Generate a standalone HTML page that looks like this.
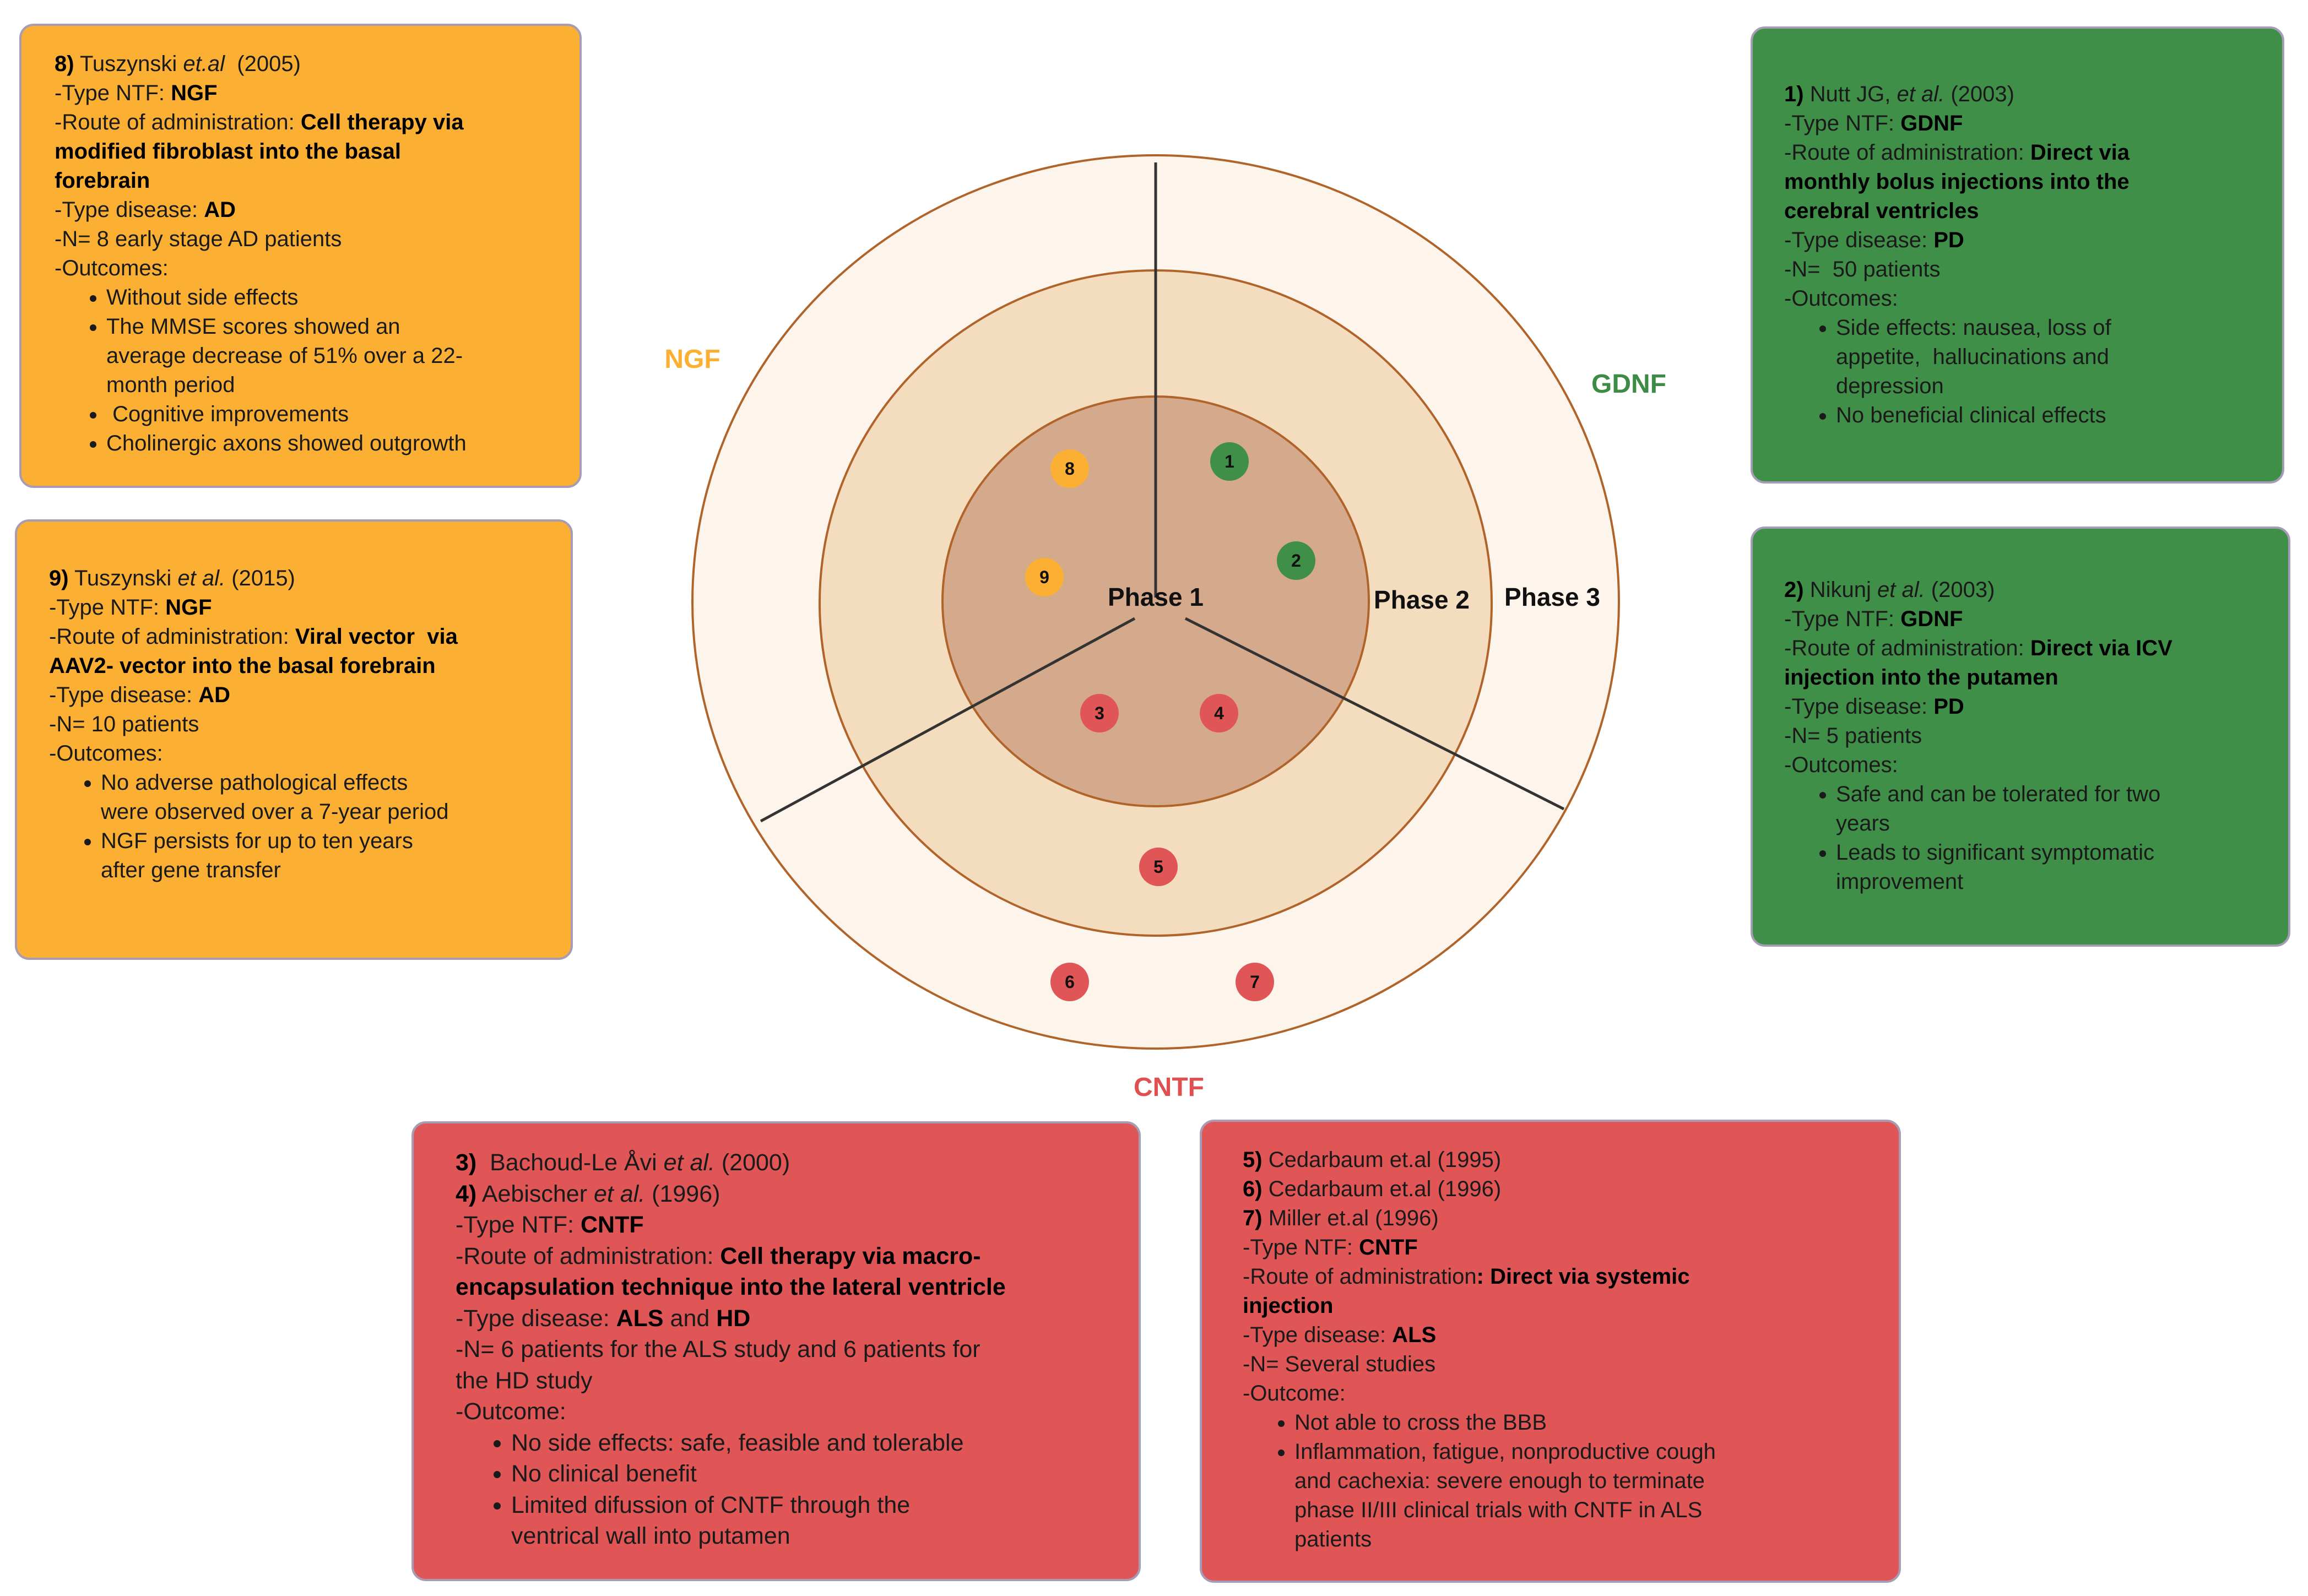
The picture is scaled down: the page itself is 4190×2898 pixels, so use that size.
<!DOCTYPE html>
<html><head><meta charset="utf-8">
<style>
html,body{margin:0;padding:0;background:#fff;}
body{width:4190px;height:2898px;position:relative;overflow:hidden;font-family:"Liberation Sans",sans-serif;color:#1a1a1a;}
.box{position:absolute;box-sizing:border-box;border:4px solid #a79cb5;border-radius:26px;}
.txt{position:absolute;font-size:40px;line-height:53px;white-space:nowrap;}
.txt b{font-weight:bold;color:#000;}
.txt ul{margin:0;padding:0 0 0 94px;list-style:disc;}
.o{background:#fbb034;} .g{background:#3f8f48;} .r{background:#e05555;}
</style></head><body>
<div class="box o" style="left:35px;top:43px;width:1021px;height:843px;"></div>
<div class="txt" style="left:99px;top:90px;">
<b>8)</b> Tuszynski <i>et.al</i> &nbsp;(2005)<br>-Type NTF: <b>NGF</b><br>-Route of administration: <b>Cell therapy via</b><br><b>modified fibroblast into the basal</b><br><b>forebrain</b><br>-Type disease: <b>AD</b><br>-N= 8 early stage AD patients<br>-Outcomes:
<ul><li>Without side effects</li><li>The MMSE scores showed an<br>average decrease of 51% over a 22-<br>month period</li><li>&nbsp;Cognitive improvements</li><li>Cholinergic axons showed outgrowth</li></ul></div>

<div class="box o" style="left:27px;top:943px;width:1013px;height:800px;"></div>
<div class="txt" style="left:89px;top:1024px;">
<b>9)</b> Tuszynski <i>et al.</i> (2015)<br>-Type NTF: <b>NGF</b><br>-Route of administration: <b>Viral vector &nbsp;via</b><br><b>AAV2- vector into the basal forebrain</b><br>-Type disease: <b>AD</b><br>-N= 10 patients<br>-Outcomes:
<ul style="padding-left:94px"><li>No adverse pathological effects<br>were observed over a 7-year period</li><li>NGF persists for up to ten years<br>after gene transfer</li></ul></div>

<div class="box g" style="left:3178px;top:48px;width:969px;height:830px;"></div>
<div class="txt" style="left:3239px;top:145px;">
<b>1)</b> Nutt JG, <i>et al.</i> (2003)<br>-Type NTF: <b>GDNF</b><br>-Route of administration: <b>Direct via</b><br><b>monthly bolus injections into the</b><br><b>cerebral ventricles</b><br>-Type disease: <b>PD</b><br>-N= &nbsp;50 patients<br>-Outcomes:
<ul><li>Side effects: nausea, loss of<br>appetite, &nbsp;hallucinations and<br>depression</li><li>No beneficial clinical effects</li></ul></div>

<div class="box g" style="left:3178px;top:956px;width:980px;height:763px;"></div>
<div class="txt" style="left:3239px;top:1045px;">
<b>2)</b> Nikunj <i>et al.</i> (2003)<br>-Type NTF: <b>GDNF</b><br>-Route of administration: <b>Direct via ICV</b><br><b>injection into the putamen</b><br>-Type disease: <b>PD</b><br>-N= 5 patients<br>-Outcomes:
<ul><li>Safe and can be tolerated for two<br>years</li><li>Leads to significant symptomatic<br>improvement</li></ul></div>

<div class="box r" style="left:747px;top:2036px;width:1324px;height:835px;"></div>
<div class="txt" style="left:827px;top:2083px;font-size:43px;line-height:56.5px;">
<b>3)</b> &nbsp;Bachoud-Le Åvi <i>et al.</i> (2000)<br><b>4)</b> Aebischer <i>et al.</i> (1996)<br>-Type NTF: <b>CNTF</b><br>-Route of administration: <b>Cell therapy via macro-</b><br><b>encapsulation technique into the lateral ventricle</b><br>-Type disease: <b>ALS</b> and <b>HD</b><br>-N= 6 patients for the ALS study and 6 patients for<br>the HD study<br>-Outcome:
<ul style="padding-left:101px"><li>No side effects: safe, feasible and tolerable</li><li>No clinical benefit</li><li>Limited difussion of CNTF through the<br>ventrical wall into putamen</li></ul></div>

<div class="box r" style="left:2178px;top:2033px;width:1273px;height:841px;"></div>
<div class="txt" style="left:2256px;top:2080px;">
<b>5)</b> Cedarbaum et.al (1995)<br><b>6)</b> Cedarbaum et.al (1996)<br><b>7)</b> Miller et.al (1996)<br>-Type NTF: <b>CNTF</b><br>-Route of administration<b>: Direct via systemic</b><br><b>injection</b><br>-Type disease: <b>ALS</b><br>-N= Several studies<br>-Outcome:
<ul><li>Not able to cross the BBB</li><li>Inflammation, fatigue, nonproductive cough<br>and cachexia: severe enough to terminate<br>phase II/III clinical trials with CNTF in ALS<br>patients</li></ul></div>

<svg width="4190" height="2898" style="position:absolute;left:0;top:0;" xmlns="http://www.w3.org/2000/svg">
<ellipse cx="2098" cy="1093" rx="841" ry="811" fill="#fdf5ec" stroke="#b0642a" stroke-width="4"/>
<ellipse cx="2098" cy="1095" rx="610" ry="604" fill="#f4dcbe" stroke="#b0642a" stroke-width="4"/>
<ellipse cx="2098" cy="1092" rx="387" ry="372" fill="#d4a98c" stroke="#b0642a" stroke-width="4"/>
<line x1="2098" y1="295" x2="2098" y2="1085" stroke="#333" stroke-width="5"/>
<line x1="2060" y1="1123" x2="1381" y2="1491" stroke="#333" stroke-width="5"/>
<line x1="2152" y1="1123" x2="2839" y2="1469" stroke="#333" stroke-width="5"/>
<g font-family="Liberation Sans, sans-serif" font-weight="bold" text-anchor="middle">
<text x="2098" y="1100" font-size="46" fill="#111">Phase 1</text>
<text x="2581" y="1105" font-size="46" fill="#111">Phase 2</text>
<text x="2818" y="1100" font-size="46" fill="#111">Phase 3</text>
<text x="1257" y="668" font-size="48" fill="#fbb034">NGF</text>
<text x="2957" y="713" font-size="48" fill="#3d8b45">GDNF</text>
<text x="2122" y="1990" font-size="48" fill="#e05050">CNTF</text>
</g>
<g font-family="Liberation Sans, sans-serif" font-weight="bold" text-anchor="middle" font-size="32" fill="#111">
<circle cx="1942" cy="851" r="35" fill="#fbb034"/><text x="1942" y="862">8</text>
<circle cx="2232" cy="838" r="35" fill="#3f8f48"/><text x="2232" y="849">1</text>
<circle cx="1896" cy="1048" r="35" fill="#fbb034"/><text x="1896" y="1059">9</text>
<circle cx="2353" cy="1018" r="35" fill="#3f8f48"/><text x="2353" y="1029">2</text>
<circle cx="1996" cy="1295" r="35" fill="#e05555"/><text x="1996" y="1306">3</text>
<circle cx="2213" cy="1295" r="35" fill="#e05555"/><text x="2213" y="1306">4</text>
<circle cx="2103" cy="1574" r="35" fill="#e05555"/><text x="2103" y="1585">5</text>
<circle cx="1942" cy="1783" r="35" fill="#e05555"/><text x="1942" y="1794">6</text>
<circle cx="2278" cy="1783" r="35" fill="#e05555"/><text x="2278" y="1794">7</text>
</g>
</svg>
</body></html>
